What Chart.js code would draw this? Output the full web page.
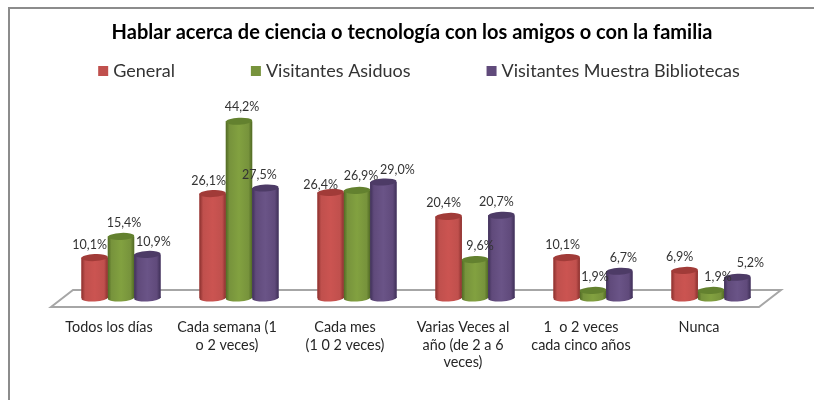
<!DOCTYPE html>
<html>
<head>
<meta charset="utf-8">
<title>Hablar acerca de ciencia o tecnología</title>
<script src="https://cdn.jsdelivr.net/npm/chart.js@4"></script>
<style>
  html, body { margin: 0; background: #fff; overflow: hidden; }
  #frame { position: absolute; left: 8px; top: 7px; right: 0; bottom: 0; border-top: 2px solid #8c8c8c; border-left: 2px solid #8c8c8c; }
  canvas { position: absolute; left: 0; top: 0; }
</style>
</head>
<body>
<div id="frame"></div>
<canvas id="grafico" width="814" height="400"></canvas>
<script>
var categorias = [
  "Todos los días",
  ["Cada semana (1", "o 2 veces)"],
  ["Cada mes", "(1 0 2 veces)"],
  ["Varias Veces al", "año (de 2 a 6", "veces)"],
  ["1  o 2 veces", "cada cinco años"],
  "Nunca"
];
var general = [10.1, 26.1, 26.4, 20.4, 10.1, 6.9];
var asiduos = [15.4, 44.2, 26.9, 9.6, 1.9, 1.9];
var bibliotecas = [10.9, 27.5, 29.0, 20.7, 6.7, 5.2];

var colores = ["#C0504D", "#77933C", "#604A7B"];
var coloresClaros = ["#CB5451", "#82A140", "#6A5487"];
var coloresOscuros = ["#8A302E", "#516A24", "#3F3058"];
var tapas = ["#A13B38", "#63812F", "#4D3B66"];

// corrimiento de cada etiqueta respecto a la tapa de su barra
var corrimientoX = [
  [-5, -4, -10, -5, -4, -5],
  [3, 3, 4, 5, 2, 7],
  [6, -6, 14, -5, 4, 13]
];
var corrimientoY = [
  [-13, -13, -7, -13, -13, -13],
  [-13, -14, -14, -14, -13, -13],
  [-12, -13, -12, -13, -13, -14]
];

function elipse(ctx, x, y, rx, ry) {
  ctx.beginPath();
  ctx.ellipse(x, y, rx, ry, -0.05, 0, Math.PI * 2);
  ctx.fill();
}

var cilindros = {
  id: "cilindros",
  beforeDatasetsDraw: function (chart) {
    // piso gris en perspectiva
    var ctx = chart.ctx, a = chart.chartArea, base = chart.scales.y.getPixelForValue(0);
    ctx.save();
    ctx.strokeStyle = "#a6a6a6";
    ctx.lineWidth = 2;
    ctx.beginPath();
    ctx.moveTo(a.left - 11, base + 9);
    ctx.lineTo(a.left + 11, base - 8);
    ctx.lineTo(a.right + 11, base - 8);
    ctx.lineTo(a.right - 11, base + 9);
    ctx.closePath();
    ctx.stroke();
    ctx.restore();
  },
  afterDatasetsDraw: function (chart) {
    var ctx = chart.ctx;
    chart.data.datasets.forEach(function (ds, d) {
      chart.getDatasetMeta(d).data.forEach(function (bar, i) {
        var rx = bar.width / 2, ry = 3.5;
        var g = ctx.createLinearGradient(bar.x - rx, 0, bar.x + rx, 0);
        g.addColorStop(0, coloresOscuros[d]);
        g.addColorStop(0.14, colores[d]);
        g.addColorStop(0.5, coloresClaros[d]);
        g.addColorStop(0.86, colores[d]);
        g.addColorStop(1, coloresOscuros[d]);
        ctx.save();
        ctx.fillStyle = g;
        elipse(ctx, bar.x, bar.base, rx, ry);
        ctx.fillRect(bar.x - rx, bar.y, bar.width, bar.base - bar.y);
        ctx.fillStyle = tapas[d];
        elipse(ctx, bar.x, bar.y, rx, ry);
        ctx.restore();
      });
    });
    // etiquetas de valor
    ctx.save();
    ctx.font = "12.5px Lato";
    ctx.fillStyle = "#333";
    ctx.textAlign = "center";
    ctx.textBaseline = "middle";
    chart.data.datasets.forEach(function (ds, d) {
      chart.getDatasetMeta(d).data.forEach(function (bar, i) {
        var texto = ds.data[i].toFixed(1).replace(".", ",") + "%";
        ctx.fillText(texto, bar.x + corrimientoX[d][i], bar.y + corrimientoY[d][i]);
      });
    });
    ctx.restore();
  },
  afterDraw: function (chart) {
    // leyenda: la separación horizontal no cabe en la leyenda de la librería
    var ctx = chart.ctx, caja = 10, aire = 5, hueco = 76, y = 71;
    ctx.save();
    ctx.font = "18px Lato";
    ctx.textBaseline = "middle";
    var anchos = chart.data.datasets.map(function (ds) { return ctx.measureText(ds.label).width; });
    var total = anchos.reduce(function (s, w) { return s + w + caja + aire; }, hueco * 2);
    var x = 419 - total / 2;
    chart.data.datasets.forEach(function (ds, d) {
      ctx.fillStyle = colores[d];
      ctx.fillRect(x, y - caja / 2, caja, caja);
      ctx.fillStyle = "#333";
      ctx.fillText(ds.label, x + caja + aire, y);
      x += caja + aire + anchos[d] + hueco;
    });
    ctx.restore();
  }
};

new Chart("grafico", {
  type: "bar",
  data: {
    labels: categorias,
    datasets: [
      { label: "General", data: general, backgroundColor: colores[0] },
      { label: "Visitantes Asiduos", data: asiduos, backgroundColor: colores[1] },
      { label: "Visitantes Muestra Bibliotecas", data: bibliotecas, backgroundColor: colores[2] }
    ]
  },
  plugins: [cilindros],
  options: {
    responsive: false,
    animation: false,
    layout: { padding: { left: 54, right: 44, top: 21, bottom: 0 } },
    datasets: { bar: { barPercentage: 1, categoryPercentage: 0.67 } },
    plugins: {
      tooltip: { enabled: false },
      title: {
        display: true,
        text: "Hablar acerca de ciencia o tecnología con los amigos o con la familia",
        color: "#000",
        font: { family: "Lato", size: 20, weight: "bold" },
        padding: { top: 0, bottom: 53 }
      },
      legend: { display: false }
    },
    scales: {
      x: {
        grid: { display: false },
        border: { display: false },
        afterFit: function (s) { s.height = 102; },
        ticks: {
          labelOffset: -12,
          maxRotation: 0,
          autoSkip: false,
          padding: 13,
          color: "#262626",
          font: { family: "Lato", size: 14.4 }
        }
      },
      y: {
        min: 0,
        max: 50,
        grid: { display: false },
        border: { display: false },
        ticks: { display: false },
        afterFit: function (s) { s.width = 8; }
      }
    }
  }
});
</script>
</body>
</html>
